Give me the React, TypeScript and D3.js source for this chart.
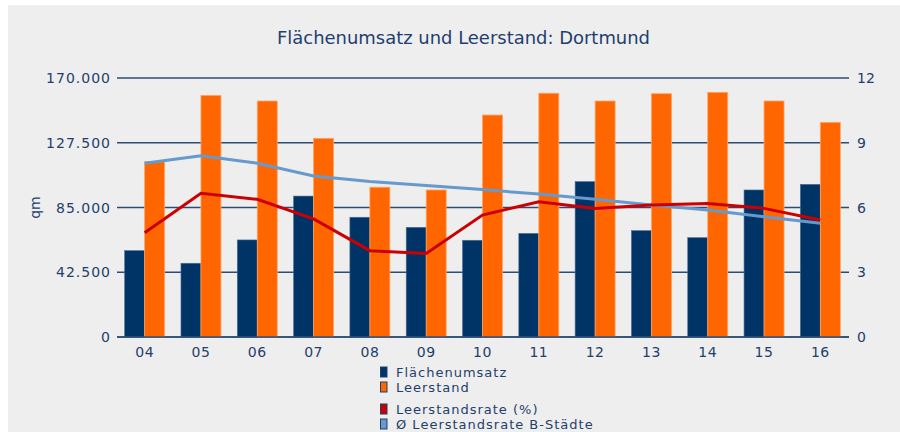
import React from "react";
import * as d3 from "d3";

const categories = ["04", "05", "06", "07", "08", "09", "10", "11", "12", "13", "14", "15", "16"];
const flaechenumsatz = [56700, 48400, 63700, 92500, 78600, 72000, 63500, 68000, 102000, 69800, 65200, 96500, 100200];
const leerstand = [115100, 158600, 154900, 130400, 98300, 96500, 145700, 160000, 154900, 159700, 160600, 154900, 140900];
const leerstandsrate = [4.83, 6.66, 6.38, 5.47, 4.0, 3.87, 5.65, 6.27, 5.95, 6.12, 6.19, 5.96, 5.42];
const bStaedte = [8.05, 8.4, 8.05, 7.46, 7.2, 7.02, 6.83, 6.62, 6.38, 6.12, 5.88, 5.57, 5.27];
const leftTicks = [0, 42500, 85000, 127500, 170000];
const rightTicks = [0, 3, 6, 9, 12];
const title = "Flächenumsatz und Leerstand: Dortmund";

const TEXT = "#1f3f6c";
const NAVY = "#003366";
const ORANGE = "#ff6600";
const RED = "#cc0000";
const LBLUE = "#6699cc";
const FONT = "'DejaVu Sans', Verdana, sans-serif";

export default function App() {
  const x0 = 116.5, x1 = 848.5, yTop = 78, yBot = 337;
  const x = d3.scaleBand<string>().domain(categories).range([x0, x1]).paddingInner(0.29).paddingOuter(0.145);
  const sub = d3.scaleBand<string>().domain(["a", "b"]).range([0, x.bandwidth()]);
  const yL = d3.scaleLinear().domain([0, 170000]).range([yBot, yTop]);
  const yR = d3.scaleLinear().domain([0, 12]).range([yBot, yTop]);
  const cx = (c: string) => (x(c) as number) + x.bandwidth() / 2;
  const fmt = (v: number) => d3.format(",")(v).replace(/,/g, ".");
  const lineRate = d3.line<number>().x((_, i) => cx(categories[i])).y((d) => yR(d));

  const legend = [
    { label: "Flächenumsatz", color: NAVY, y: 377 },
    { label: "Leerstand", color: ORANGE, y: 392 },
    { label: "Leerstandsrate (%)", color: RED, y: 414 },
    { label: "Ø Leerstandsrate B-Städte", color: LBLUE, y: 429 },
  ];

  return (
    <svg width={900} height={432} style={{ position: "absolute", left: 0, top: 0 }} fontFamily={FONT}>
      <rect x={0} y={0} width={900} height={432} fill="#ffffff" />
      <rect x={8} y={5} width={892} height={427} fill="#eeeeee" />
      <text x={277} y={44} fontSize={17} fill={TEXT} textLength={373} lengthAdjust="spacingAndGlyphs">
        {title}
      </text>
      {leftTicks.map((t) => (
        <g key={"l" + t}>
          <line x1={117} x2={849} y1={yL(t)} y2={yL(t)} stroke="#2b4c74" strokeWidth={1.5} />
          <text x={111} y={yL(t) + 5} textAnchor="end" fontSize={14} fill={TEXT} letterSpacing={1}>{fmt(t)}</text>
        </g>
      ))}
      {rightTicks.map((t) => (
        <text key={"r" + t} x={857} y={yR(t) + 5} textAnchor="start" fontSize={14} fill={TEXT}>{t}</text>
      ))}
      <text transform={`translate(40,${(yTop + yBot) / 2}) rotate(-90)`} textAnchor="middle" fontSize={14} fill={TEXT}>qm</text>
      {categories.map((c, i) => (
        <g key={c}>
          <rect x={(x(c) as number) + (sub("a") as number)} y={yL(flaechenumsatz[i])} width={sub.bandwidth()} height={yBot - yL(flaechenumsatz[i])} fill={NAVY} stroke="#4d6f96" strokeWidth={0.6} />
          <rect x={(x(c) as number) + (sub("b") as number)} y={yL(leerstand[i])} width={sub.bandwidth()} height={yBot - yL(leerstand[i])} fill={ORANGE} stroke="#ffa46a" strokeWidth={0.8} />
          <text x={cx(c)} y={357} textAnchor="middle" fontSize={14} fill={TEXT} letterSpacing={0.5}>{c}</text>
        </g>
      ))}
      <line x1={117} x2={849} y1={yBot} y2={yBot} stroke="#2b4c74" strokeWidth={1.5} />
      <path d={lineRate(bStaedte) || ""} fill="none" stroke={LBLUE} strokeWidth={3} />
      <path d={lineRate(leerstandsrate) || ""} fill="none" stroke={RED} strokeWidth={3} />
      {legend.map((l) => (
        <g key={l.label}>
          <rect x={380.5} y={l.y - 10} width={6.5} height={10} fill={l.color} stroke={TEXT} strokeWidth={1} />
          <text x={396} y={l.y} fontSize={13} fill={TEXT} letterSpacing={1}>{l.label}</text>
        </g>
      ))}
    </svg>
  );
}
